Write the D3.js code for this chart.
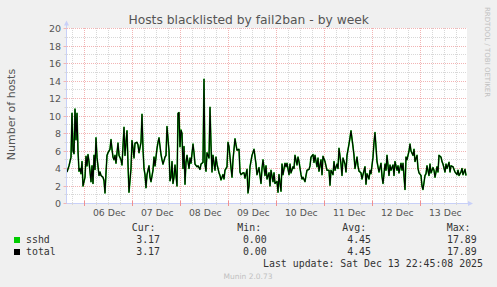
<!DOCTYPE html>
<html>
<head>
<meta charset="utf-8">
<script src="https://cdn.jsdelivr.net/npm/d3@7"></script>
<style>
  body { margin: 0; background: #f0f0f0; }
  svg { display: block; }
</style>
</head>
<body>
<div id="chart"></div>
<script>
(function () {
  "use strict";

  // ── Datos ──────────────────────────────────────────────
  // [muestra de 30 min desde el inicio, hosts]
  const sshd = [
    [0,3.6],[2,4.3],[4,5.3],[5,10.3],[6,6.0],[7,5.7],[8,10.8],[9,7.3],[10,10.3],[11,6.0],[12,3.7],[13,4.0],[14,3.4],[15,4.8],[16,2.0],[18,3.0],[19,5.4],[20,4.3],[21,5.6],[22,4.8],
    [24,2.5],[25,4.3],[26,2.3],[27,5.5],[28,3.9],[29,7.5],[30,5.3],[32,3.2],[33,3.6],[34,3.2],[36,3.0],[37,2.6],[38,1.2],[39,3.5],[40,5.5],[41,5.8],[43,6.2],[44,7.3],[45,6.2],[46,5.3],
    [47,5.0],[48,5.5],[49,4.6],[50,5.8],[51,6.9],[52,5.5],[54,5.0],[55,4.4],[57,8.7],[58,5.5],[59,7.0],[60,8.3],[61,4.5],[62,1.3],[64,4.0],[65,7.2],[66,6.3],[67,5.2],[68,6.9],[70,7.0],
    [71,6.7],[72,5.8],[74,7.0],[75,10.2],[76,6.2],[77,4.0],[78,3.3],[79,1.8],[80,3.3],[82,4.3],[83,3.0],[84,2.5],[86,3.8],[87,5.3],[88,4.3],[90,6.3],[91,7.0],[92,7.5],[94,5.6],[95,5.0],
    [96,4.5],[98,5.3],[99,5.5],[100,8.8],[102,6.0],[103,2.6],[104,3.0],[105,4.8],[106,2.3],[107,3.0],[108,4.4],[110,2.0],[111,10.3],[112,10.4],[113,6.5],[114,8.4],[115,8.0],[116,4.0],[117,6.5],[118,2.2],
    [119,4.7],[120,5.5],[122,4.0],[123,5.2],[124,4.6],[126,6.8],[127,5.8],[128,4.5],[130,4.2],[131,4.3],[133,3.9],[134,4.5],[136,4.7],[137,14.2],[138,4.5],[139,3.7],[140,5.8],[142,5.2],[143,11.0],[144,6.7],
    [145,3.6],[146,5.5],[148,3.8],[149,5.3],[150,4.5],[152,3.5],[153,3.2],[154,2.7],[156,3.3],[157,2.8],[158,3.8],[160,4.2],[161,7.0],[162,6.5],[164,4.1],[165,3.0],[166,5.0],[168,7.4],[169,6.7],[170,6.1],
    [172,6.2],[173,3.6],[174,3.3],[176,3.5],[177,3.5],[178,2.9],[180,3.9],[181,1.2],[182,2.0],[183,4.2],[185,5.5],[187,6.2],[189,4.5],[190,3.3],[192,4.1],[194,2.3],[195,4.0],[196,5.0],[198,3.2],[199,4.3],
    [200,2.8],[202,3.5],[203,2.0],[204,3.8],[206,2.5],[207,3.5],[208,2.3],[210,2.5],[211,1.3],[212,3.3],[214,1.4],[215,4.5],[216,3.3],[218,4.6],[219,4.2],[220,4.6],[222,3.3],[223,4.5],[224,3.5],[226,4.2],
    [227,4.0],[228,5.5],[230,4.4],[231,5.3],[232,4.8],[234,3.3],[235,2.8],[236,3.0],[238,2.5],[239,3.2],[240,3.8],[242,3.9],[243,4.3],[244,5.3],[246,5.6],[247,4.7],[248,5.5],[250,4.2],[251,5.2],[252,3.7],
    [254,5.0],[255,3.3],[256,5.4],[258,4.8],[259,4.3],[260,3.8],[262,3.8],[263,2.1],[264,3.8],[266,3.3],[267,4.8],[268,3.8],[270,4.5],[271,4.0],[272,6.3],[274,4.5],[275,3.2],[276,5.2],[278,4.5],[279,3.6],
    [280,5.5],[282,6.8],[283,7.5],[284,8.3],[286,6.5],[287,5.5],[288,4.0],[290,5.3],[291,4.3],[292,3.7],[294,3.5],[295,2.8],[296,3.3],[298,4.2],[299,2.2],[300,3.4],[302,2.8],[303,3.8],[304,3.4],[306,5.3],
    [307,7.0],[308,8.1],[310,4.8],[311,4.2],[312,3.6],[314,4.6],[315,3.1],[316,2.3],[318,4.5],[319,3.8],[320,5.5],[322,3.2],[323,4.4],[324,3.8],[326,4.4],[327,3.2],[328,4.8],[330,3.8],[331,4.3],[332,3.5],
    [334,4.6],[335,3.8],[336,4.6],[338,1.6],[339,5.3],[340,5.0],[342,6.0],[343,6.8],[344,6.0],[346,5.5],[347,6.2],[348,4.8],[350,5.5],[351,4.0],[352,3.5],[354,3.2],[355,2.0],[356,1.6],[358,3.2],[359,3.4],
    [360,4.3],[362,3.2],[363,4.5],[364,3.5],[366,4.1],[367,3.8],[368,3.0],[370,4.2],[371,3.6],[372,5.5],[374,5.3],[375,4.8],[376,4.5],[378,3.6],[379,4.5],[380,4.0],[382,4.7],[383,3.6],[384,4.3],[386,4.2],
    [387,3.9],[388,3.6],[390,3.3],[391,3.8],[392,3.2],[394,3.6],[395,4.0],[396,3.3],[398,3.9],[399,3.2]
  ];
  // total = suma de las jails; aquí sólo hay sshd
  const total = sshd;

  const yTicks = [0, 2, 4, 6, 8, 10, 12, 14, 16, 18, 20];
  const statLabels = ["Cur:", "Min:", "Avg:", "Max:"];
  const sshdStats = ["3.17", "0.00", "4.45", "17.89"];
  const totalStats = ["3.17", "0.00", "4.45", "17.89"];

  // ── Configuración ──────────────────────────────────────
  const W = 497, H = 287;
  const STEP_MS = 30 * 60 * 1000;
  const T0 = Date.UTC(2025, 11, 5, 15, 20);
  const T1 = T0 + 400 * STEP_MS;
  const GREEN = "#00cc00";
  const AXIS = "#c8d0f8";
  const MAJOR = "#f2b4b4";
  const MINOR = "#d8d8d8";
  const SANS = "'DejaVu Sans', sans-serif";
  const MONO = "'DejaVu Sans Mono', monospace";

  const svg = d3.select("#chart").append("svg").attr("width", W).attr("height", H);
  svg.append("rect").attr("width", W).attr("height", H).attr("fill", "#f0f0f0");

  const x = d3.scaleUtc().domain([T0, T1]).range([67, 467]);
  const y = d3.scaleLinear().domain([0, 20]).range([203.5, 28.5]);
  const px = (v) => Math.round(v - 0.5) + 0.5;
  const xs = (i) => x(T0 + i * STEP_MS);

  // Área del gráfico
  svg.append("rect").attr("x", 67).attr("y", 28).attr("width", 400).attr("height", 175).attr("fill", "#fff");

  // ── Grid ───────────────────────────────────────────────
  const gGrid = svg.append("g").attr("shape-rendering", "crispEdges");
  const hours6 = d3.utcHour.every(6).range(new Date(T0), new Date(T1)).filter((d) => d.getUTCHours() !== 0);
  const days = d3.utcDay.range(new Date(T0), new Date(T1));

  gGrid.selectAll(".vmin").data(hours6).join("line")
    .attr("x1", (d) => px(x(d))).attr("x2", (d) => px(x(d)))
    .attr("y1", 28).attr("y2", 203)
    .attr("stroke", MINOR).attr("stroke-dasharray", "1,1");

  gGrid.selectAll(".hmin").data(d3.range(1, 20, 2)).join("line")
    .attr("x1", 67).attr("x2", 467)
    .attr("y1", (d) => px(y(d))).attr("y2", (d) => px(y(d)))
    .attr("stroke", MINOR).attr("stroke-dasharray", "1,1");

  gGrid.selectAll(".vmaj").data(days).join("line")
    .attr("x1", (d) => px(x(d))).attr("x2", (d) => px(x(d)))
    .attr("y1", 28).attr("y2", 203)
    .attr("stroke", MAJOR).attr("stroke-dasharray", "1,1");

  gGrid.selectAll(".hmaj").data(yTicks.slice(1)).join("line")
    .attr("x1", 67).attr("x2", 467)
    .attr("y1", (d) => px(y(d))).attr("y2", (d) => px(y(d)))
    .attr("stroke", MAJOR).attr("stroke-dasharray", "1,1");

  // ── Líneas ─────────────────────────────────────────────
  const line = d3.line().x((d) => xs(d[0])).y((d) => y(d[1]));
  svg.append("path").attr("d", line(sshd)).attr("fill", "none").attr("stroke", GREEN).attr("stroke-width", 1.6).attr("stroke-linejoin", "round");
  svg.append("path").attr("d", line(total)).attr("fill", "none").attr("stroke", "#000").attr("stroke-width", 1.1).attr("stroke-linejoin", "round");

  // ── Ejes ───────────────────────────────────────────────
  const gAxis = svg.append("g");
  gAxis.append("line").attr("x1", 66.5).attr("x2", 66.5).attr("y1", 204).attr("y2", 24).attr("stroke", AXIS);
  gAxis.append("line").attr("x1", 64).attr("x2", 470).attr("y1", 203.5).attr("y2", 203.5).attr("stroke", AXIS);
  gAxis.append("path").attr("d", "M64,25.5L69,25.5L66.5,20.5Z").attr("fill", AXIS);
  gAxis.append("path").attr("d", "M468,201L468,206L473,203.5Z").attr("fill", AXIS);

  // ticks eje y
  gAxis.selectAll(".ytick").data(d3.range(0, 21)).join("line")
    .attr("x1", (d) => (d % 2 === 0 ? 63.5 : 64.5)).attr("x2", 66.5)
    .attr("y1", (d) => px(y(d))).attr("y2", (d) => px(y(d)))
    .attr("stroke", (d) => (d % 2 === 0 ? MAJOR : MINOR));
  // ticks eje x
  gAxis.selectAll(".xtmin").data(hours6).join("line")
    .attr("x1", (d) => px(x(d))).attr("x2", (d) => px(x(d)))
    .attr("y1", 202).attr("y2", 205).attr("stroke", MINOR);
  gAxis.selectAll(".xtmaj").data(days).join("line")
    .attr("x1", (d) => px(x(d))).attr("x2", (d) => px(x(d)))
    .attr("y1", 201).attr("y2", 206).attr("stroke", "#f09090");

  // etiquetas
  svg.append("g").selectAll("text").data(yTicks).join("text")
    .attr("x", 61).attr("y", (d) => y(d) + 3.5)
    .attr("text-anchor", "end").attr("font-family", SANS).attr("font-size", "9.5px").attr("fill", "#555")
    .text((d) => d);

  svg.append("g").selectAll("text").data(days.map((d) => d3.utcHour.offset(d, 12))).join("text")
    .attr("x", (d) => x(d) + 1).attr("y", 216)
    .attr("text-anchor", "middle").attr("font-family", SANS).attr("font-size", "9.3px").attr("fill", "#555")
    .text(d3.utcFormat("%d %b"));

  svg.append("text").attr("x", 248.7).attr("y", 23.5).attr("text-anchor", "middle")
    .attr("font-family", SANS).attr("font-size", "12.3px").attr("fill", "#555")
    .text("Hosts blacklisted by fail2ban - by week");

  svg.append("text").attr("transform", "translate(15,114.5) rotate(-90)").attr("text-anchor", "middle")
    .attr("font-family", SANS).attr("font-size", "11px").attr("fill", "#555")
    .text("Number of hosts");

  svg.append("text").attr("transform", "translate(485,52) rotate(90)").attr("text-anchor", "middle")
    .attr("font-family", SANS).attr("font-size", "7px").attr("fill", "#c0c0c0")
    .text("RRDTOOL / TOBI OETIKER");

  // ── Leyenda ────────────────────────────────────────────
  const gLeg = svg.append("g").attr("font-family", MONO).attr("font-size", "9.9px").attr("fill", "#333");
  const colX = [131.7, 237.3, 342.3, 446.7];
  const valRight = [160, 266.7, 371, 476.7];

  gLeg.selectAll(".hdr").data(statLabels).join("text")
    .attr("x", (d, i) => colX[i]).attr("y", 230.5).text((d) => d);

  const rows = [
    { name: "sshd", color: GREEN, stats: sshdStats, y: 243 },
    { name: "total", color: "#000", stats: totalStats, y: 255 },
  ];
  for (const r of rows) {
    gLeg.append("rect").attr("x", 14).attr("y", r.y - 6).attr("width", 6).attr("height", 6).attr("fill", r.color);
    gLeg.append("text").attr("x", 26).attr("y", r.y).text(r.name);
    gLeg.selectAll(null).data(r.stats).join("text")
      .attr("x", (d, i) => valRight[i]).attr("y", r.y).attr("text-anchor", "end").text((d) => d);
  }

  gLeg.append("text").attr("x", 483).attr("y", 266.5).attr("text-anchor", "end")
    .text("Last update: Sat Dec 13 22:45:08 2025");

  svg.append("text").attr("x", 248).attr("y", 279).attr("text-anchor", "middle")
    .attr("font-family", SANS).attr("font-size", "7.5px").attr("fill", "#c0c0c0")
    .text("Munin 2.0.73");
})();
</script>
</body>
</html>
